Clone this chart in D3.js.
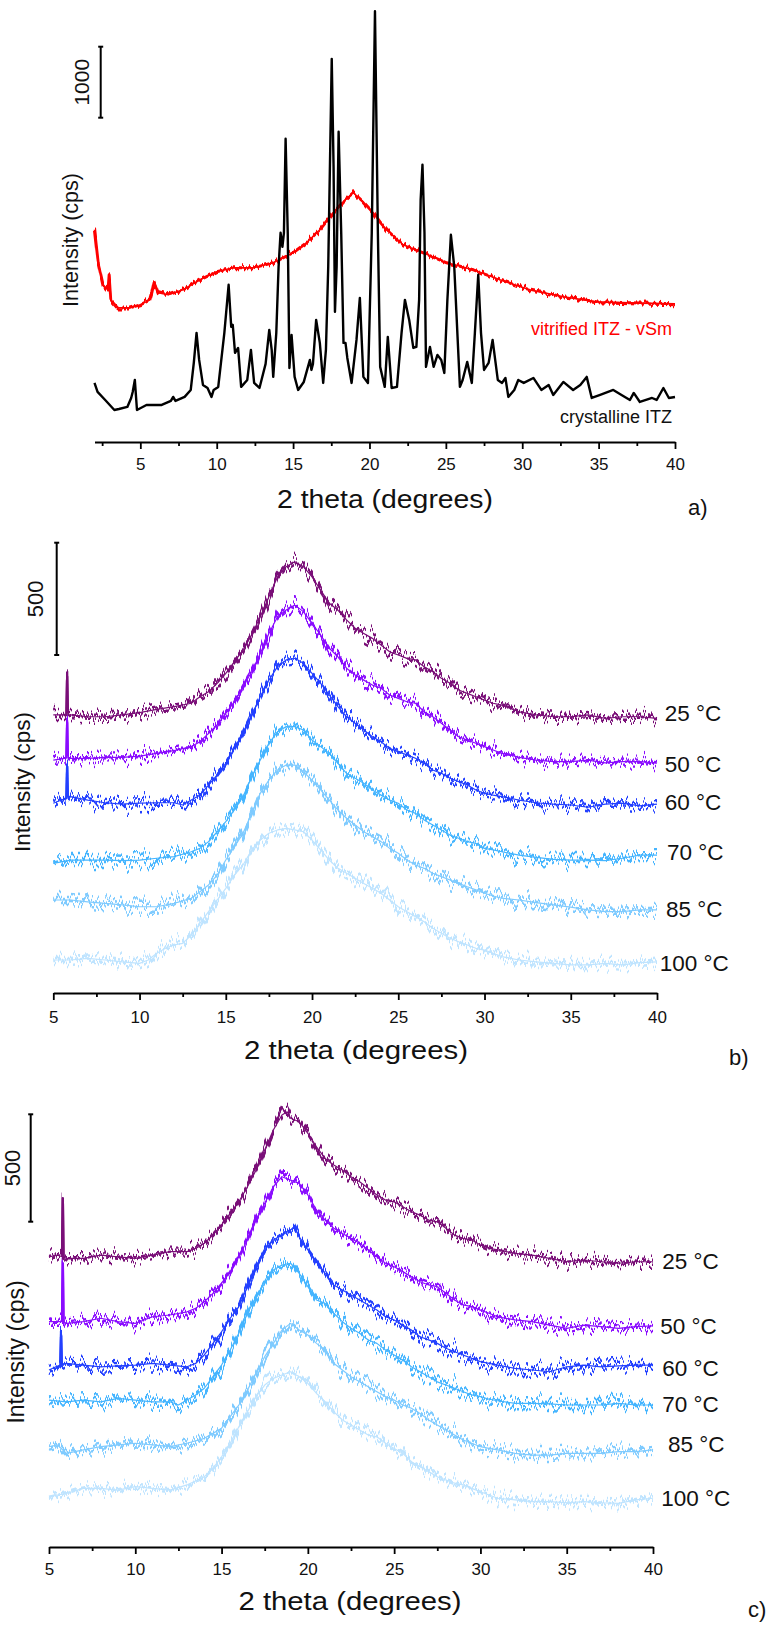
<!DOCTYPE html>
<html>
<head>
<meta charset="utf-8">
<script src="https://cdn.jsdelivr.net/npm/d3@7"></script>
<style>
  html, body { margin: 0; padding: 0; background: #ffffff; }
  svg { display: block; }
  text { font-family: "Liberation Sans", Arial, sans-serif; }
</style>
</head>
<body>
<script>
// ---------------- DATA ----------------
// Panel a: 2 theta (deg) vs intensity (cps, offset as plotted)
const crystallineITZ = [[2.0,832],[2.2,705],[2.7,592],[3.3,451],[3.6,465],[4.15,494],[4.4,620],[4.5,705],[4.64,874],[4.78,451],[5.4,522],[6.4,522],[7.0,578],[7.15,635],[7.3,578],[7.9,635],[8.3,733],[8.5,1114],[8.68,1537],[8.85,1156],[9.1,804],[9.4,761],[9.66,635],[9.8,733],[10.1,776],[10.5,1537],[10.78,2214],[10.95,1622],[11.05,1650],[11.2,1255],[11.4,1325],[11.6,776],[12.0,874],[12.24,1297],[12.45,832],[12.8,761],[13.2,1100],[13.44,1579],[13.6,1297],[13.7,917],[13.9,1537],[14.05,2468],[14.18,2947],[14.3,2750],[14.4,2947],[14.51,4272],[14.65,2947],[14.76,1043],[14.9,1509],[15.1,917],[15.33,733],[15.7,846],[16.1,1156],[16.2,1015],[16.3,1100],[16.51,1720],[16.75,1396],[16.97,832],[17.15,1300],[17.3,2468],[17.53,5396],[17.65,3878],[17.74,1833],[17.85,2468],[17.98,4371],[18.15,2947],[18.3,1396],[18.43,1396],[18.55,1184],[18.83,832],[19.15,1438],[19.37,2030],[19.6,917],[19.9,832],[20.15,2947],[20.36,6067],[20.55,2947],[20.7,1058],[21.0,776],[21.2,1481],[21.45,761],[21.8,776],[22.1,1537],[22.32,2002],[22.6,1720],[22.87,1325],[23.07,1340],[23.25,2002],[23.35,3412],[23.47,3906],[23.6,2947],[23.7,1058],[23.96,1340],[24.2,1058],[24.45,1227],[24.7,1156],[24.9,973],[25.1,2002],[25.33,2919],[25.55,2468],[25.92,776],[26.1,874],[26.4,1128],[26.7,832],[26.9,1537],[27.12,2356],[27.3,1537],[27.5,1015],[27.8,1114],[28.06,1438],[28.4,874],[28.68,832],[28.9,902],[29.09,635],[29.48,733],[29.74,874],[30.1,832],[30.73,902],[31.25,733],[31.73,804],[32.03,663],[32.69,846],[33.33,733],[33.8,804],[34.22,917],[34.55,620],[35.1,663],[35.96,733],[36.5,663],[37.05,592],[37.3,691],[37.7,564],[38.5,620],[38.8,592],[39.24,761],[39.6,620],[40,634]];
const vitrifiedITZ = [[2.0,2989],[2.24,2524],[2.56,2214],[2.89,2143],[2.96,2355],[3.07,2002],[3.55,1889],[4.31,1889],[5.0,1932],[5.62,2002],[5.75,2101],[5.9,2256],[6.17,2101],[6.82,2073],[7.8,2143],[8.9,2284],[9.99,2397],[11.08,2453],[12.39,2453],[13.7,2524],[15.0,2665],[15.88,2806],[16.75,2989],[17.63,3229],[18.28,3384],[18.94,3511],[19.59,3384],[20.25,3229],[20.68,3102],[21.12,2989],[22.2,2778],[23.52,2665],[25.05,2524],[26.8,2425],[28.54,2284],[30.5,2143],[32.69,2045],[34.87,1974],[37.05,1960],[40,1946]];
const ticksA = [5,10,15,20,25,30,35,40];
const minorTicksA = [2.5,7.5,12.5,17.5,22.5,27.5,32.5,37.5];

// Panel b: temperature series (°C)
const labelsB = ["25 °C","50 °C","60 °C","70 °C","85 °C","100 °C"];
const b25 = [[5,1238],[5.76,1238],[5.8,1405],[5.84,1238],[6,1238],[7,1230],[8,1230],[9,1238],[10,1248],[11,1263],[12,1275],[13,1290],[13.5,1319],[14,1341],[14.5,1379],[15,1423],[15.5,1475],[16,1527],[16.5,1594],[17,1675],[17.5,1764],[18,1853],[18.5,1898],[19,1920],[19.5,1898],[20,1853],[20.5,1794],[21,1735],[21.5,1705],[22,1661],[22.5,1624],[23,1601],[23.5,1579],[24,1549],[24.5,1519],[25,1505],[25.5,1490],[26,1483],[26.5,1453],[27,1430],[27.5,1401],[28,1379],[28.5,1349],[29,1334],[29.5,1319],[30,1304],[30.5,1290],[31,1282],[31.5,1267],[32,1252],[33,1238],[34,1230],[35,1230],[36,1238],[37,1223],[38,1230],[39,1230],[40,1223]];
const b50 = [[5,1037],[5.76,1046],[5.8,1203],[5.84,1046],[6,1045],[7,1045],[8,1049],[9,1049],[10,1055],[11,1067],[12,1079],[13,1097],[13.5,1119],[14,1156],[14.5,1193],[15,1245],[15.5,1297],[16,1364],[16.5,1430],[17,1512],[17.5,1601],[18,1675],[18.5,1705],[19,1727],[19.5,1698],[20,1646],[20.5,1594],[21,1535],[21.5,1497],[22,1446],[22.5,1416],[23,1393],[23.5,1371],[24,1357],[24.5,1327],[25,1312],[25.5,1297],[26,1290],[26.5,1252],[27,1230],[27.5,1201],[28,1171],[28.5,1141],[29,1126],[29.5,1112],[30,1097],[30.5,1082],[31,1067],[31.5,1060],[32,1049],[33,1037],[34,1030],[35,1030],[36,1037],[37,1025],[38,1030],[39,1030],[40,1023]];
const b60 = [[5,845],[5.76,868],[5.8,1008],[5.84,868],[6,874],[7,859],[8,847],[9,841],[10,845],[11,847],[12,847],[12.5,837],[13,859],[13.5,881],[14,926],[14.5,971],[15,1023],[15.5,1089],[16,1156],[16.5,1238],[17,1319],[17.5,1393],[18,1453],[18.5,1483],[19,1490],[19.5,1468],[20,1423],[20.5,1379],[21,1327],[21.5,1275],[22,1230],[22.5,1201],[23,1171],[23.5,1141],[24,1119],[24.5,1089],[25,1074],[25.5,1060],[26,1045],[26.5,1023],[27,993],[27.5,978],[28,956],[28.5,941],[29,926],[29.5,904],[30,889],[30.5,881],[31,874],[31.5,867],[32,859],[33,847],[34,841],[35,837],[36,827],[37,841],[38,845],[39,833],[40,841]];
const b70 = [[5,577],[6,592],[7,592],[8,592],[9,589],[10,592],[11,600],[12,607],[13,629],[13.5,644],[14,674],[14.5,718],[15,763],[15.5,815],[16,874],[16.5,963],[17,1037],[17.5,1112],[18,1163],[18.5,1186],[19,1186],[19.5,1171],[20,1126],[20.5,1097],[21,1067],[21.5,1023],[22,978],[22.5,956],[23,934],[23.5,904],[24,881],[24.5,859],[25,845],[25.5,815],[26,800],[26.5,770],[27,748],[27.5,726],[28,703],[28.5,689],[29,674],[29.5,666],[30,644],[30.5,637],[31,629],[32,614],[33,604],[34,595],[35,592],[36,592],[37,589],[38,600],[39,614],[40,614]];
const b85 = [[5,414],[6,414],[7,406],[8,399],[9,392],[10,384],[11,384],[12,399],[13,422],[13.5,451],[14,481],[14.5,525],[15,592],[15.5,651],[16,711],[16.5,800],[17,889],[17.5,948],[18,993],[18.5,1015],[19,1015],[19.5,985],[20,948],[20.5,904],[21,859],[21.5,815],[22,778],[22.5,748],[23,718],[23.5,696],[24,674],[24.5,644],[25,622],[25.5,592],[26,570],[26.5,555],[27,533],[27.5,518],[28,503],[28.5,488],[29,473],[29.5,459],[30,444],[30.5,432],[31,422],[32,414],[33,402],[34,392],[35,382],[36,370],[37,362],[38,362],[39,370],[40,370]];
const b100 = [[5,147],[6,147],[7,154],[8,147],[9,139],[10,132],[10.5,147],[11,177],[11.5,199],[12,214],[12.5,221],[13,258],[13.5,310],[14,362],[14.5,414],[15,466],[15.5,525],[16,570],[16.5,637],[17,681],[17.5,711],[18,726],[18.5,733],[19,726],[19.5,718],[20,681],[20.5,637],[21,592],[21.5,555],[22,533],[22.5,511],[23,488],[23.5,466],[24,444],[24.5,414],[25,384],[25.5,362],[26,340],[26.5,317],[27,288],[27.5,266],[28,244],[28.5,228],[29,214],[29.5,199],[30,191],[30.5,177],[31,162],[32,147],[33,139],[34,132],[35,125],[36,125],[37,132],[38,125],[39,135],[40,139]];

// Panel c: temperature series (°C)
const labelsC = ["25 °C","50 °C","60 °C","70 °C","85 °C","100 °C"];
const c25 = [[5,1351],[5.5,1359],[5.76,1351],[5.8,1615],[5.84,1351],[6,1344],[7,1344],[8,1359],[9,1351],[10,1344],[11,1359],[12,1375],[13,1375],[13.5,1390],[14,1414],[14.5,1452],[15,1499],[15.5,1553],[16,1607],[16.5,1677],[17,1755],[17.5,1848],[18,1941],[18.5,2011],[18.8,2026],[19,1996],[19.5,1980],[20,1926],[20.5,1863],[21,1809],[21.5,1778],[22,1755],[22.5,1724],[23,1700],[23.5,1670],[24,1639],[24.5,1615],[25,1607],[25.5,1584],[26,1561],[26.5,1545],[27,1522],[27.5,1514],[28,1484],[28.5,1452],[29,1437],[29.5,1429],[30,1406],[30.5,1390],[31,1383],[32,1367],[33,1359],[34,1344],[35,1328],[36,1336],[37,1328],[38,1321],[39,1328],[40,1328]];
const c50 = [[5,1049],[5.76,1049],[5.8,1321],[5.84,1049],[6,1041],[7,1049],[8,1065],[9,1049],[10,1041],[11,1072],[12,1080],[13,1095],[13.5,1111],[14,1142],[14.5,1181],[15,1228],[15.5,1282],[16,1351],[16.5,1429],[17,1522],[17.5,1600],[18,1677],[18.5,1724],[19,1708],[19.5,1693],[20,1639],[20.5,1569],[21,1522],[21.5,1484],[22,1460],[22.5,1437],[23,1414],[23.5,1383],[24,1351],[24.5,1321],[25,1305],[25.5,1282],[26,1258],[26.5,1235],[27,1220],[27.5,1212],[28,1181],[28.5,1150],[29,1127],[29.5,1119],[30,1103],[30.5,1088],[31,1072],[32,1057],[33,1049],[34,1033],[35,1018],[36,1033],[37,1026],[38,1018],[39,1026],[40,1029]];
const c60 = [[5,824],[5.4,839],[5.66,847],[5.7,987],[5.74,847],[6,855],[7,847],[8,839],[9,843],[10,847],[11,855],[12,847],[13,839],[13.5,855],[14,894],[14.5,948],[15,1002],[15.5,1065],[16,1119],[16.5,1212],[17,1305],[17.5,1383],[18,1429],[18.5,1452],[19,1476],[19.2,1491],[19.5,1444],[20,1383],[20.5,1328],[21,1274],[21.5,1220],[22,1196],[22.5,1173],[23,1150],[23.5,1127],[24,1103],[24.5,1072],[25,1057],[25.5,1033],[26,1010],[26.5,979],[27,964],[27.5,948],[28,925],[28.5,909],[29,894],[29.5,878],[30,863],[30.5,855],[31,847],[32,832],[33,824],[34,816],[35,839],[36,847],[37,839],[38,843],[39,847],[40,847]];
const c70 = [[5,684],[6,676],[7,684],[8,676],[9,692],[10,684],[11,676],[12,676],[12.5,661],[13,684],[13.5,708],[14,739],[14.5,793],[15,847],[15.5,917],[16,995],[16.5,1088],[17,1165],[17.5,1228],[18,1289],[18.5,1313],[19,1321],[19.5,1274],[20,1212],[20.5,1150],[21,1134],[21.5,1088],[22,1049],[22.5,1018],[23,995],[23.5,964],[24,948],[24.5,917],[25,894],[25.5,870],[26,839],[26.5,816],[27,793],[27.5,769],[28,754],[28.5,739],[29,723],[29.5,708],[30,700],[30.5,688],[31,681],[32,669],[33,669],[34,666],[35,661],[36,661],[37,661],[38,669],[39,661],[40,661]];
const c85 = [[5,467],[5.5,475],[6,436],[7,452],[8,467],[9,475],[10,483],[11,475],[12,467],[13,483],[14,506],[14.5,529],[15,553],[15.5,607],[16,661],[16.5,731],[17,809],[17.5,886],[18,948],[18.5,1010],[19,1041],[19.5,1010],[20,987],[20.5,948],[21,917],[21.5,855],[22,824],[22.5,793],[23,769],[23.5,746],[24,723],[24.5,700],[25,684],[25.5,661],[26,646],[26.5,622],[27,591],[27.5,568],[28,545],[28.5,521],[29,498],[29.5,483],[30,467],[30.5,459],[31,452],[32,436],[33,428],[34,428],[35,436],[36,436],[37,436],[38,444],[39,444],[40,452]];
const c100 = [[5,234],[6,250],[7,273],[8,273],[9,265],[10,281],[11,273],[12,265],[13,289],[14,327],[14.5,366],[15,420],[15.5,483],[16,560],[16.5,630],[17,700],[17.5,754],[18,785],[18.5,801],[19,816],[19.5,793],[20,762],[20.5,715],[21,676],[21.5,630],[22,591],[22.5,568],[23,545],[23.5,521],[24,513],[24.5,483],[25,459],[25.5,436],[26,397],[26.5,374],[27,351],[27.5,327],[28,312],[28.5,297],[29,289],[29.5,273],[30,257],[30.5,242],[31,227],[32,219],[33,211],[34,211],[35,206],[36,211],[37,206],[38,203],[39,219],[40,227]];

const ticksBC = [5,10,15,20,25,30,35,40];
const minorTicksBC = [7.5,12.5,17.5,22.5,27.5,32.5,37.5];
const tempColors = ["#7a0f78","#8a0cff","#2340ff","#45b5ff","#7fcbff","#bfe4ff"];

// ---------------- DRAW ----------------
const W = 767, H = 1629;
const svg = d3.select("body").append("svg").attr("width", W).attr("height", H);

// texture filter imitating detector noise on the measured scans (visual only)
const defs = svg.append("defs");
function grainFilter(id, freq, scale, seed) {
  const f = defs.append("filter").attr("id", id).attr("filterUnits", "userSpaceOnUse")
    .attr("x", 0).attr("y", 0).attr("width", W).attr("height", H)
    .attr("color-interpolation-filters", "sRGB");
  f.append("feTurbulence").attr("type", "fractalNoise").attr("baseFrequency", freq)
    .attr("numOctaves", 1).attr("seed", seed).attr("result", "t");
  f.append("feColorMatrix").attr("in", "t").attr("type", "matrix")
    .attr("values", "0 0 0 0 0.5  0 1 0 0 0  0 0 0 0 0  0 0 0 0 1").attr("result", "m");
  f.append("feDisplacementMap").attr("in", "SourceGraphic").attr("in2", "m")
    .attr("scale", scale).attr("xChannelSelector", "R").attr("yChannelSelector", "G");
}
grainFilter("grainBC", "0.3 0.004", 40, 7);
grainFilter("grainBC2", "0.45 0.004", 30, 11);
grainFilter("grainA", "0.45 0.004", 12, 3);

function bottomAxis(x, yPos, major, minor, pad) {
  const g = svg.append("g").attr("transform", `translate(0,${yPos})`);
  g.call(d3.axisBottom(x).tickValues(major).tickSize(7).tickSizeOuter(0).tickPadding(pad).tickFormat(d3.format("d")));
  const gm = svg.append("g").attr("transform", `translate(0,${yPos})`);
  gm.call(d3.axisBottom(x).tickValues(minor).tickSize(4).tickSizeOuter(0).tickFormat(""));
  gm.select(".domain").remove();
  [g, gm].forEach(a => {
    a.selectAll("path,line").attr("stroke", "#000").attr("stroke-width", 1.8);
  });
  g.selectAll("text").attr("font-size", 17).attr("fill", "#111")
    .attr("font-family", "'Liberation Sans', Arial, sans-serif");
}

function scaleBar(y, value, xPos, top, label, fontSize, labelX) {
  const len = y(0) - y(value);
  const g = svg.append("g").attr("stroke", "#000").attr("stroke-width", 2);
  g.append("line").attr("x1", xPos).attr("x2", xPos).attr("y1", top).attr("y2", top + len);
  g.append("line").attr("x1", xPos - 2.5).attr("x2", xPos + 2.5).attr("y1", top).attr("y2", top);
  g.append("line").attr("x1", xPos - 2.5).attr("x2", xPos + 2.5).attr("y1", top + len).attr("y2", top + len);
  svg.append("text").attr("transform", `translate(${labelX},${top + len / 2}) rotate(-90)`)
    .attr("text-anchor", "middle").attr("dy", "0.36em").attr("font-size", fontSize)
    .attr("fill", "#111").text(label);
}

function yTitle(cx, cy, fs) {
  svg.append("text").attr("transform", `translate(${cx},${cy}) rotate(-90)`)
    .attr("text-anchor", "middle").attr("dy", "0.27em").attr("font-size", fs)
    .attr("fill", "#111").text("Intensity (cps)");
}

function xTitle(cx, baseline, len) {
  svg.append("text").attr("x", cx).attr("y", baseline).attr("text-anchor", "middle")
    .attr("font-size", 26).attr("textLength", len).attr("lengthAdjust", "spacingAndGlyphs")
    .attr("fill", "#111").text("2 theta (degrees)");
}

function panelTag(x, y, t) {
  svg.append("text").attr("x", x).attr("y", y).attr("font-size", 22).attr("fill", "#111").text(t);
}

// ----- Panel a -----
const xA = d3.scaleLinear().domain([2, 40]).range([94.5, 675]);
const yA = d3.scaleLinear().domain([0, 1000]).range([442, 371]);
const lineA = d3.line().x(d => xA(d[0])).y(d => yA(d[1]));

const redG = svg.append("g").attr("filter", "url(#grainA)");
redG.append("path").datum(vitrifiedITZ).attr("d", lineA).attr("fill", "none")
  .attr("stroke", "#ff0000").attr("stroke-width", 3).attr("stroke-linejoin", "round");
svg.append("path").datum(vitrifiedITZ).attr("d", lineA).attr("fill", "none")
  .attr("stroke", "#ff0000").attr("stroke-width", 1.6).attr("stroke-linejoin", "round");
svg.append("path").datum(crystallineITZ).attr("d", lineA).attr("fill", "none")
  .attr("stroke", "#000").attr("stroke-width", 2.4).attr("stroke-linejoin", "round");

svg.append("text").attr("x", 672).attr("y", 335).attr("text-anchor", "end")
  .attr("font-size", 18).attr("fill", "#ff0000").text("vitrified ITZ - vSm");
svg.append("text").attr("x", 672).attr("y", 423).attr("text-anchor", "end")
  .attr("font-size", 18).attr("fill", "#111").text("crystalline ITZ");

bottomAxis(xA, 442, ticksA, minorTicksA, 9);
scaleBar(yA, 1000, 100.7, 46.7, "1000", 21, 81);
yTitle(72, 240, 21.5);
xTitle(385, 508, 216);
panelTag(688, 515, "a)");

// ----- Panels b and c -----
function stackPanel(x, y, series, labels, labelPos) {
  const line = d3.line().x(d => x(d[0])).y(d => y(d[1]));
  ["grainBC", "grainBC2"].forEach(fid => {
    const noisy = svg.append("g").attr("filter", `url(#${fid})`);
    series.forEach((s, i) => {
      noisy.append("path").datum(s).attr("d", line).attr("fill", "none")
        .attr("stroke", tempColors[i]).attr("stroke-width", 2.4)
        .attr("stroke-linejoin", "round");
    });
  });
  series.forEach((s, i) => {
    svg.append("path").datum(s).attr("d", line).attr("fill", "none")
      .attr("stroke", tempColors[i]).attr("stroke-width", 1.2).attr("stroke-linejoin", "round");
  });
  labels.forEach((t, i) => {
    svg.append("text").attr("x", labelPos[i][0]).attr("y", labelPos[i][1] + 8.1)
      .attr("font-size", 22.5).attr("fill", "#111").text(t);
  });
}

const xB = d3.scaleLinear().domain([5, 40]).range([53.3, 657]);
const yB = d3.scaleLinear().domain([0, 500]).range([993, 993 - 112.3]);
stackPanel(xB, yB, [b25, b50, b60, b70, b85, b100], labelsB,
  [[664.7,713.3],[664.7,764.3],[664.7,801.7],[667,851.7],[666,909.3],[659.7,962.7]]);
bottomAxis(xB, 993, ticksBC, minorTicksBC, 11);
scaleBar(yB, 500, 56.7, 542.7, "500", 22, 35);
yTitle(24, 782, 22.5);
xTitle(356, 1059, 224);
panelTag(729, 1065, "b)");

const xC = d3.scaleLinear().domain([5, 40]).range([49, 653]);
const yC = d3.scaleLinear().domain([0, 500]).range([1547, 1547 - 107.4]);
stackPanel(xC, yC, [c25, c50, c60, c70, c85, c100], labelsC,
  [[662.3,1261],[660.3,1325.7],[662.3,1368.3],[662.3,1404],[668,1444.3],[661.3,1497.7]]);
bottomAxis(xC, 1547, ticksBC, minorTicksBC, 9);
scaleBar(yC, 500, 30.7, 1114.3, "500", 22, 12);
yTitle(18, 1352, 23);
xTitle(350, 1610, 223);
panelTag(748, 1617, "c)");
</script>
</body>
</html>
